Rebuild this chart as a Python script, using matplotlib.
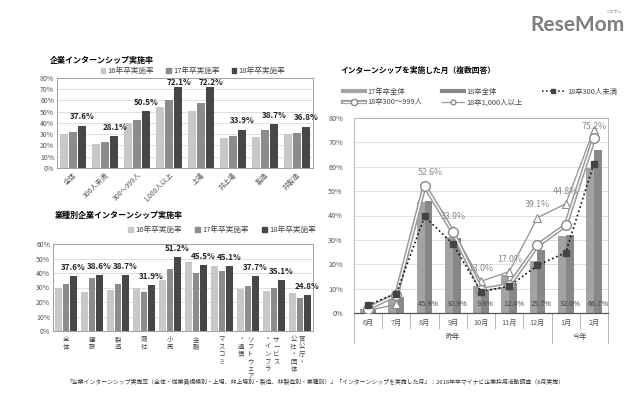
import numpy as np
import matplotlib.pyplot as plt
from matplotlib.lines import Line2D
from matplotlib.patches import Patch

plt.rcParams['font.family'] = ['Noto Sans CJK JP', 'DejaVu Sans']

# ---- data: 企業インターンシップ実施率
kigyo_cats = ['全体', '300人未満', '300～999人', '1,000人以上', '上場', '非上場', '製造', '非製造']
kigyo_16 = [30.0, 21.3, 39.7, 54.2, 51.0, 26.7, 27.6, 30.5]
kigyo_17 = [32.0, 23.1, 42.4, 60.1, 57.5, 28.7, 33.8, 31.1]
kigyo_18 = [37.6, 28.1, 50.5, 72.1, 72.2, 33.9, 38.7, 36.8]

# ---- data: 業種別企業インターンシップ実施率 ('/' = column break of the vertical label)
gyoshu_cats = ['全体', '建設', '製造', '商社', '小売', '金融', 'マスコミ',
               'ソフトウェア/・通信', 'サービス/・インフラ', '官公庁・/公社・団体']
gyoshu_16 = [29.9, 26.6, 28.3, 29.7, 35.0, 47.5, 44.5, 29.0, 27.6, 26.2]
gyoshu_17 = [32.2, 36.8, 32.2, 26.6, 42.6, 40.1, 41.5, 31.0, 29.9, 22.9]
gyoshu_18 = [37.6, 38.6, 38.7, 31.9, 51.2, 45.5, 45.1, 37.7, 35.1, 24.8]

# ---- data: インターンシップを実施した月
months = ['6月', '7月', '8月', '9月', '10月', '11月', '12月', '1月', '2月']
zentai_17 = [1.8, 6.2, 45.5, 31.1, 11.0, 15.5, 21.2, 31.5, 59.4]
zentai_18 = [1.5, 6.6, 45.9, 30.9, 9.8, 12.4, 25.7, 32.0, 66.7]
u300 = [3.3, 8.0, 39.6, 28.4, 8.8, 11.0, 19.5, 24.8, 61.2]
s300_999 = [1.8, 7.5, 52.3, 33.3, 9.6, 11.4, 27.7, 36.0, 71.6]
o1000 = [1.0, 3.6, 52.6, 33.9, 13.0, 17.0, 39.1, 44.8, 75.2]

c16, c17, c18 = '#c8c8c8', '#8c8c8c', '#474747'
W, H = 640, 394

fig = plt.figure(figsize=(6.4, 3.94), dpi=100)

def fax(l, t, r, b):
    return fig.add_axes([l / W, 1 - b / H, (r - l) / W, (b - t) / H])

def style_box(ax):
    for s in ax.spines.values():
        s.set_color('#a0a0a0')
        s.set_linewidth(0.7)
    ax.grid(axis='y', color='#d9d9d9', lw=0.6)
    ax.set_axisbelow(True)
    ax.tick_params(length=0, labelsize=5, colors='#555555', pad=2)
    ax.yaxis.set_major_formatter(lambda v, p: '%d%%' % v)

# ---------------- top-left
ax1 = fax(57, 78, 313, 168)
x = np.arange(len(kigyo_cats))
bw = 0.265
ax1.bar(x - 0.275, kigyo_16, bw, color=c16)
ax1.bar(x, kigyo_17, bw, color=c17)
ax1.bar(x + 0.275, kigyo_18, bw, color=c18)
for i, v in enumerate(kigyo_18):
    ax1.text(i + 0.3, min(v + 8, 76.2), '%.1f%%' % v, ha='center', va='center',
             fontsize=5.8, fontweight='bold', color='#222222')
ax1.set_xlim(-0.5, len(kigyo_cats) - 0.5)
ax1.set_ylim(0, 80)
ax1.set_yticks(range(0, 81, 10))
ax1.set_xticks(x)
ax1.set_xticklabels(kigyo_cats, rotation=45, ha='right', rotation_mode='anchor')
style_box(ax1)
fig.text(50 / W, 1 - 61 / H, '企業インターンシップ実施率', fontsize=5.8,
         fontweight='bold', va='center')
hl = [Patch(color=c16), Patch(color=c17), Patch(color=c18)]
fig.legend(hl, ['16年卒実施率', '17年卒実施率', '18年卒実施率'], ncol=3,
           loc='center', bbox_to_anchor=(193 / W, 1 - 71 / H), frameon=False,
           fontsize=5.5, handlelength=0.6, handleheight=0.6, handletextpad=0.3,
           columnspacing=1.6, labelcolor='#444444')

# ---------------- bottom-left
ax2 = fax(53, 244, 313, 331)
x = np.arange(len(gyoshu_cats))
ax2.bar(x - 0.275, gyoshu_16, bw, color=c16)
ax2.bar(x, gyoshu_17, bw, color=c17)
ax2.bar(x + 0.275, gyoshu_18, bw, color=c18)
for i, v in enumerate(gyoshu_18):
    ax2.text(i + 0.28, v + 5.9, '%.1f%%' % v, ha='center', va='center',
             fontsize=5.8, fontweight='bold', color='#222222')
ax2.set_xlim(-0.5, len(gyoshu_cats) - 0.5)
ax2.set_ylim(0, 60)
ax2.set_yticks(range(0, 61, 10))
ax2.set_xticks(x)
ax2.set_xticklabels([])
style_box(ax2)
for i, lab in enumerate(gyoshu_cats):
    cols = lab.split('/')
    offs = [0.0] if len(cols) == 1 else [0.08, -0.25]
    for c, dx in zip(cols, offs):
        ax2.text(i + dx, -0.05, '\n'.join(c), transform=ax2.get_xaxis_transform(),
                 ha='center', va='top', fontsize=4.6, linespacing=0.9, color='#444444')
fig.text(55 / W, 1 - 215 / H, '業種別企業インターンシップ実施率', fontsize=5.8,
         fontweight='bold', va='center')
fig.legend(hl, ['16年卒実施率', '17年卒実施率', '18年卒実施率'], ncol=3,
           loc='center', bbox_to_anchor=(222 / W, 1 - 230 / H), frameon=False,
           fontsize=5.5, handlelength=0.6, handleheight=0.6, handletextpad=0.3,
           columnspacing=1.8, labelcolor='#444444')

# ---------------- right
ax3 = fax(354, 118, 608, 313)
x = np.arange(len(months))
b17c, b18c = '#a3a3a3', '#878787'
ax3.bar(x - 0.14, zentai_17, 0.28, color=b17c, zorder=2)
ax3.bar(x + 0.14, zentai_18, 0.28, color=b18c, zorder=2)
ax3.plot(x, o1000, color='#9a9a9a', lw=1.0, marker='^', ms=5.5, mfc='white',
         mec='#8a8a8a', mew=0.8, zorder=4)
ax3.plot(x, s300_999, color='#9a9a9a', lw=3.2, zorder=5)
ax3.plot(x, s300_999, color='white', lw=1.0, marker='o', ms=7, mfc='white',
         mec='#8a8a8a', mew=1.0, zorder=6)
ax3.plot(x, u300, color='#111111', lw=1.2, ls=':', marker='s', ms=5,
         mfc='#444444', mec='#444444', zorder=7)
for i, v in enumerate(zentai_18):
    if i >= 2:
        ax3.text(i + 0.15, 3.5, '%.1f%%' % v, ha='center', va='center',
                 fontsize=5.3, color='#444444', zorder=8)
o1000_lab = {2: (0.2, 57.8), 3: (0.0, 39.7), 4: (0.0, 18.4), 5: (0.0, 22.1),
             6: (0.0, 44.7), 7: (0.0, 49.7), 8: (0.0, 76.5)}
for i, (dx, yy) in o1000_lab.items():
    ax3.text(i + dx, yy, '%.1f%%' % o1000[i], ha='center', va='center',
             fontsize=6.3, color='#8a8a8a', zorder=8)
ax3.set_xlim(-0.5, len(months) - 0.5)
ax3.set_ylim(0, 80)
ax3.set_yticks(range(0, 81, 10))
ax3.yaxis.set_major_formatter(lambda v, p: '%d%%' % v)
ax3.set_xticks(x)
ax3.set_xticklabels(months)
ax3.tick_params(length=0, labelsize=5.2, colors='#555555', pad=4)
ax3.tick_params(axis='y', pad=8)
ax3.grid(axis='y', color='#d9d9d9', lw=0.6)
ax3.set_axisbelow(True)
for s in ['left', 'top', 'right']:
    ax3.spines[s].set_color('#b5b5b5')
    ax3.spines[s].set_linewidth(0.7)
ax3.spines['bottom'].set_color('#555555')
ax3.spines['bottom'].set_linewidth(0.9)
xt = ax3.get_xaxis_transform()
for xs in np.arange(-0.5, len(months), 1.0):
    low = -0.154 if xs in (-0.5, 6.5, len(months) - 0.5) else -0.075
    ax3.plot([xs, xs], [0, low], transform=xt, color='#b5b5b5', lw=0.7, clip_on=False)
ax3.text(3.0, -0.123, '昨年', transform=xt, ha='center', va='center', fontsize=5.2, color='#444444')
ax3.text(7.5, -0.123, '今年', transform=xt, ha='center', va='center', fontsize=5.2, color='#444444')
fig.text(340 / W, 1 - 70 / H, 'インターンシップを実施した月（複数回答）', fontsize=5.6,
         fontweight='bold', va='center')
h17 = Line2D([], [], color=b17c, lw=3)
h18 = Line2D([], [], color=b18c, lw=3)
hu = Line2D([], [], color='#111111', lw=1.1, ls=':', marker='s', ms=3.5,
            mfc='#444444', mec='#444444')
h999 = (Line2D([], [], color='#9a9a9a', lw=3),
        Line2D([], [], color='white', lw=0.9, marker='o', ms=4.5, mfc='white',
               mec='#8a8a8a'))
h1000 = Line2D([], [], color='#9a9a9a', lw=0.9, marker='o', ms=3.5, mfc='white',
               mec='#8a8a8a')
fig.legend([h17, h999, h18, h1000, hu],
           ['17年卒全体', '18卒300～999人', '18卒全体', '18卒1,000人以上', '18卒300人未満'],
           ncol=3, loc='upper left', bbox_to_anchor=(336 / W, 1 - 81 / H), frameon=False,
           fontsize=5.3, handlelength=3.0, handletextpad=0.4, columnspacing=2.6,
           labelspacing=0.35, labelcolor='#444444')

# ---------------- footer and logo
fig.text(315 / W, 1 - 382 / H,
         '「企業インターンシップ実施率（全体・従業員規模別・上場、非上場別・製造、非製造別・業種別）」'
         '「インターンシップを実施した月」：2018年卒マイナビ企業採用活動調査（6月実施）',
         ha='center', va='center', fontsize=4.2, color='#333333')
fig.text(578 / W, 1 - 25 / H, 'ReseMom', ha='center', va='center', fontsize=15,
         fontweight='bold', color='#7d7d7d', family=['Lato', 'DejaVu Sans'])
fig.text(613 / W, 1 - 12 / H, 'リセマム', ha='center', va='center', fontsize=3,
         color='#8a8a8a')

fig.savefig('out.png', dpi=100)
